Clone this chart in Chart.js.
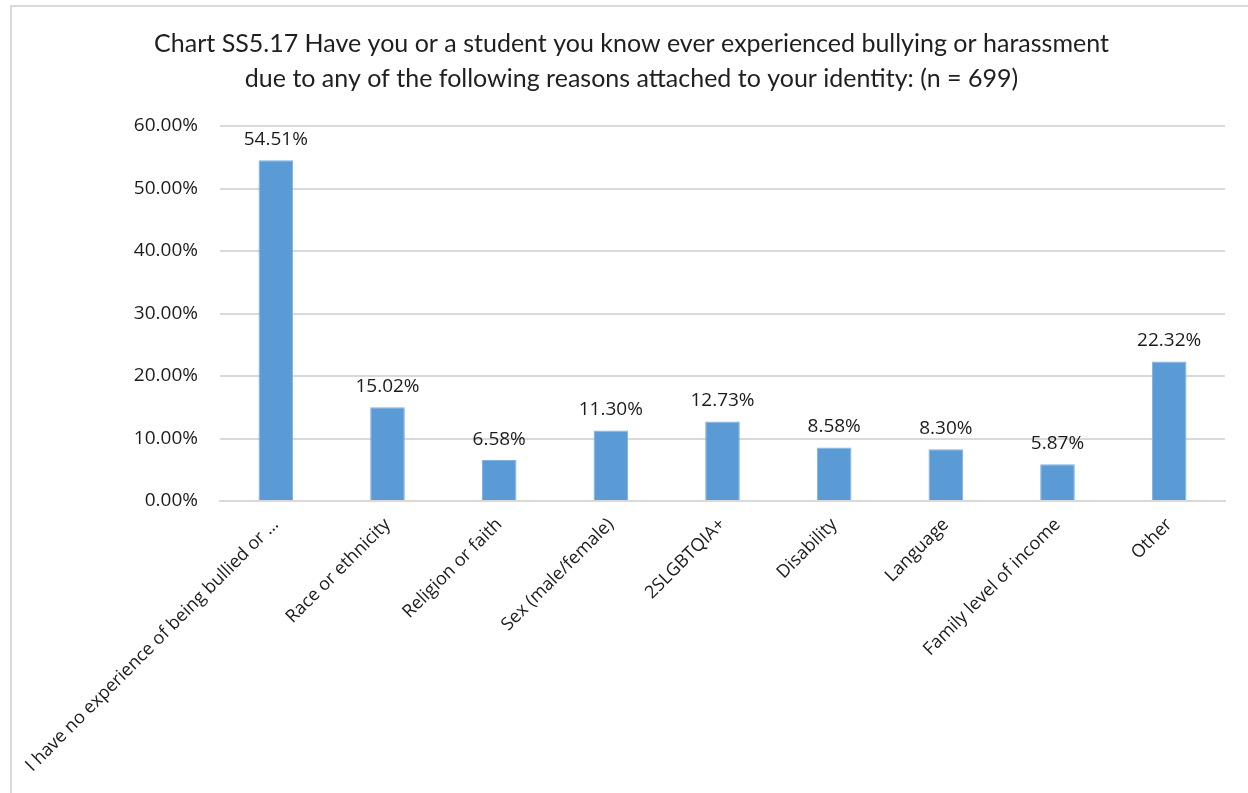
<!DOCTYPE html>
<html>
<head>
<meta charset="utf-8">
<title>Chart SS5.17</title>
<script src="https://cdn.jsdelivr.net/npm/chart.js@4.4.1/dist/chart.umd.min.js"></script>
<style>
    html, body { margin: 0; padding: 0; background: #fff; }
    #wrap { width: 1248px; height: 793px; position: relative; }
</style>
</head>
<body>
<div id="wrap"><canvas id="identityChart"></canvas></div>
<script>
// Survey responses, percent of respondents (n = 699)
const categories = [
    'I have no experience of being bullied or \u2026',
    'Race or ethnicity',
    'Religion or faith',
    'Sex (male/female)',
    '2SLGBTQIA+',
    'Disability',
    'Language',
    'Family level of income',
    'Other'
];
const percentages = [54.51, 15.02, 6.58, 11.30, 12.73, 8.58, 8.30, 5.87, 22.32];
const yTicks = [0, 10, 20, 30, 40, 50, 60];
const titleLines = [
    'Chart SS5.17 Have you or a student you know ever experienced bullying or harassment',
    'due to any of the following reasons attached to your identity: (n = 699)'
];

const labelFont = { family: "'Open Sans', 'Noto Sans', sans-serif", size: 19 };
const categoryFont = { family: "'Open Sans', 'Noto Sans', sans-serif", size: 18 };
const textColor = '#1c1c1c';

// Light grey frame around the whole chart
const framePlugin = {
    id: 'frame',
    beforeDraw(chart) {
        const ctx = chart.ctx;
        ctx.save();
        ctx.fillStyle = '#fff';
        ctx.fillRect(0, 0, chart.width, chart.height);
        ctx.strokeStyle = '#d9d9d9';
        ctx.lineWidth = 2;
        ctx.strokeRect(11, 6, chart.width + 20, chart.height + 20);
        ctx.restore();
    }
};

// Value labels above each bar
const valueLabels = {
    id: 'valueLabels',
    afterDatasetsDraw(chart) {
        const ctx = chart.ctx;
        const meta = chart.getDatasetMeta(0);
        ctx.save();
        ctx.font = `${labelFont.size}px ${labelFont.family}`;
        ctx.fillStyle = textColor;
        ctx.textAlign = 'center';
        ctx.textBaseline = 'bottom';
        meta.data.forEach((bar, i) => {
            const v = chart.data.datasets[0].data[i];
            ctx.fillText(v.toFixed(2) + '%', bar.x, bar.y - 11);
        });
        ctx.restore();
    }
};

const ctx = document.getElementById('identityChart').getContext('2d');
const identityChart = new Chart(ctx, {
    type: 'bar',
    data: {
        labels: categories,
        datasets: [{
            data: percentages,
            backgroundColor: '#5b9bd5',
            borderColor: '#7fb0de',
            borderWidth: 1,
            barPercentage: 0.31,
            categoryPercentage: 1
        }]
    },
    options: {
        responsive: true,
        maintainAspectRatio: false,
        animation: false,
        layout: { padding: { left: 38, right: 23, top: 26, bottom: 0 } },
        scales: {
            y: {
                min: 0,
                max: 60,
                afterBuildTicks: (scale) => {
                    scale.ticks = yTicks.map(v => ({ value: v }));
                },
                afterFit: (scale) => { scale.width = 182; },
                ticks: {
                    font: labelFont,
                    color: textColor,
                    padding: 22,
                    callback: (value) => value.toFixed(2) + '%'
                },
                grid: { color: '#d9d9d9', lineWidth: 2, drawTicks: false },
                border: { display: false }
            },
            x: {
                afterFit: (scale) => {
                    scale.height = 292;
                    scale.paddingLeft = 0;
                    scale.paddingRight = 0;
                },
                ticks: {
                    font: categoryFont,
                    color: textColor,
                    minRotation: 45,
                    maxRotation: 45,
                    autoSkip: false,
                    padding: 5
                },
                grid: { display: false },
                border: { color: '#d9d9d9', width: 2 }
            }
        },
        plugins: {
            legend: { display: false },
            tooltip: { enabled: false },
            title: {
                display: true,
                text: titleLines,
                color: '#1f1f1f',
                font: { family: "Lato, 'Noto Sans', sans-serif", size: 25, weight: 'normal', lineHeight: 1.4 },
                padding: { top: 0, bottom: 30 }
            }
        }
    },
    plugins: [framePlugin, valueLabels]
});
</script>
</body>
</html>
